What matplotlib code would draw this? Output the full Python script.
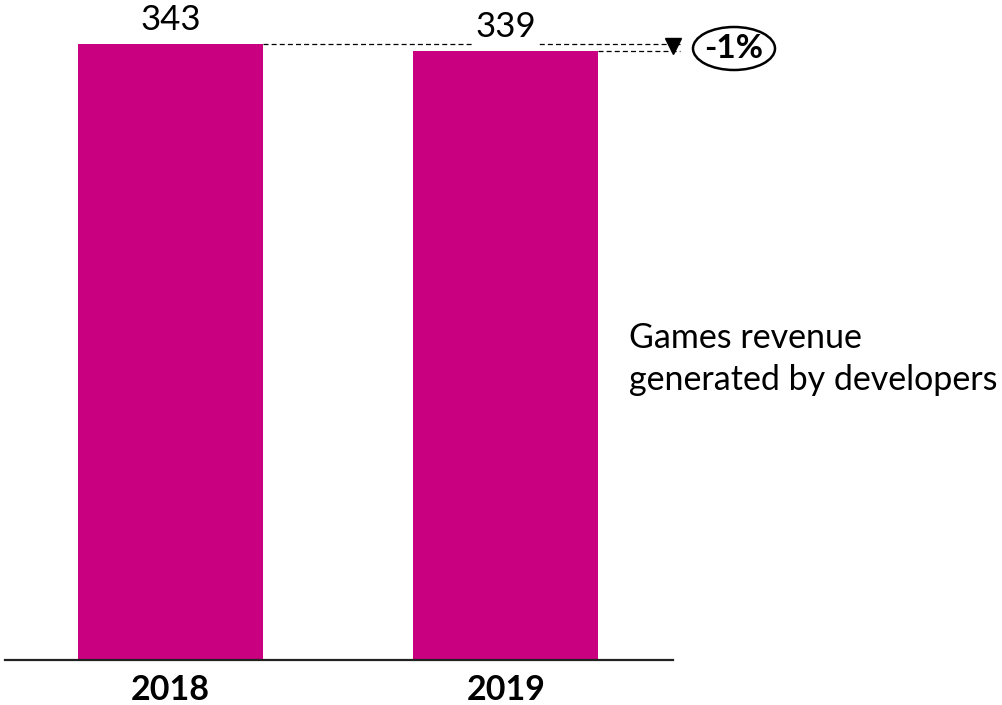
import matplotlib
matplotlib.use("Agg")
import matplotlib.pyplot as plt
from matplotlib.patches import Ellipse

# Games revenue generated by developers
years = ["2018", "2019"]
revenue = [343, 339]
change_label = "-1%"
series_lines = ["Games revenue", "generated by developers"]

bar_color = "#C9007F"
plt.rcParams["font.family"] = ["Lato", "DejaVu Sans"]

W, H = 1003, 705
fig = plt.figure(figsize=(W / 100, H / 100), dpi=100)
ax = fig.add_axes([5 / W, 45 / H, 668 / W, 660 / H])

x = list(range(len(years)))
width = 0.551
ax.bar(x, revenue, width=width, color=bar_color, zorder=2)

ax.set_xlim(-0.493, 1.498)
ax.set_ylim(0, 367.5)
for s in ["left", "right", "top"]:
    ax.spines[s].set_visible(False)
ax.spines["bottom"].set_linewidth(1.6)
ax.spines["bottom"].set_color("#222222")
ax.set_yticks([])
ax.set_xticks([])

# year labels under the baseline
for xi, yr in zip(x, years):
    ax.annotate(yr, xy=(xi, 0), xycoords=("data", "axes fraction"),
                xytext=(0, -(700 - 660) * 0.72), textcoords="offset points",
                ha="center", va="baseline", fontsize=24.5, fontweight="bold",
                annotation_clip=False)

# value labels
for xi, v in zip(x, revenue):
    ax.annotate(str(v), xy=(xi, v), xytext=(0, 10), textcoords="offset points",
                ha="center", va="baseline", fontsize=25, zorder=5,
                bbox=dict(facecolor="white", edgecolor="none", pad=2))

# dashed reference lines from bar tops to the change marker
x_end = 1.519
dash = (0, (4, 2.5))
ax.plot([x[0] + width / 2, x_end], [revenue[0], revenue[0]], ls=dash,
        color="black", lw=0.9, zorder=3, clip_on=False)
ax.plot([x[1] + width / 2, x_end], [revenue[1], revenue[1]], ls=dash,
        color="black", lw=0.9, zorder=3, clip_on=False)
ax.plot([1.498], [(revenue[0] + revenue[1]) / 2 + 0.8], marker="v", color="black",
        markersize=11, clip_on=False, zorder=4)

# change bubble
cx, cy = 734 / W, 1 - 48.5 / H
fig.add_artist(Ellipse((cx, cy), 82 / W, 43 / H, transform=fig.transFigure,
                       facecolor="white", edgecolor="black", lw=1.8))
fig.text(cx, cy, change_label, ha="center", va="center", fontsize=24,
         fontweight="bold")

# series label
for line, base in zip(series_lines, [348, 390]):
    fig.text(629 / W, 1 - base / H, line, ha="left", va="baseline", fontsize=24.5)

fig.savefig("out.png", dpi=100)
